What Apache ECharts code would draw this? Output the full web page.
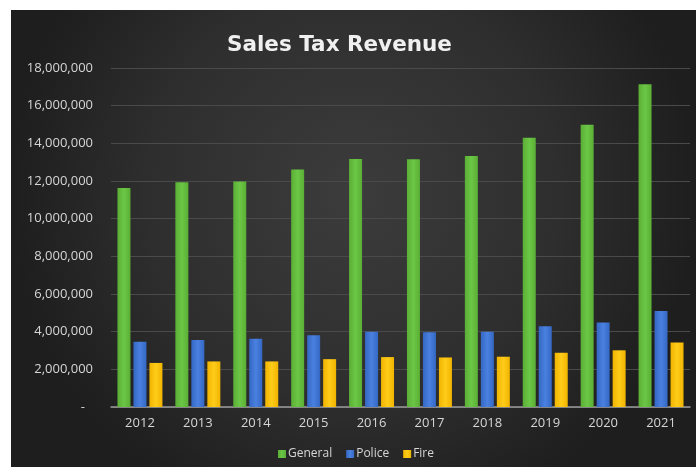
<!DOCTYPE html>
<html>
<head>
<meta charset="utf-8">
<script src="https://cdn.jsdelivr.net/npm/echarts@6/dist/echarts.min.js"></script>
<style>
html,body{margin:0;padding:0;background:#ffffff;}
#chart{position:absolute;left:11px;top:10px;width:685px;height:457px;}
</style>
</head>
<body>
<div id="chart"></div>
<script>
const years = ['2012','2013','2014','2015','2016','2017','2018','2019','2020','2021'];
const general = [11630000,11930000,11970000,12610000,13170000,13150000,13330000,14290000,14990000,17140000];
const police = [3470000,3560000,3630000,3810000,3990000,3970000,3990000,4290000,4490000,5100000];
const fire = [2340000,2420000,2420000,2540000,2650000,2630000,2670000,2880000,3010000,3420000];
const seriesNames = ['General','Police','Fire'];

const chart = echarts.init(document.getElementById('chart'));
const txt = '#d6d6d6';
function mk(name, data, c1, c2){
  return {
    name: name, type: 'bar', data: data, barWidth: 13, barGap: '23%',
    itemStyle: { color: new echarts.graphic.LinearGradient(0,0,1,0,[{offset:0,color:c1},{offset:0.5,color:c2},{offset:1,color:c1}]) }
  };
}
chart.setOption({
  backgroundColor: new echarts.graphic.RadialGradient(0.5,0.4,0.75,[
    {offset:0,color:'#3c3c3c'},{offset:0.6,color:'#2e2e2e'},{offset:1,color:'#1e1e1e'}]),
  animation: false,
  title: {
    text: 'Sales Tax Revenue', left: 211, top: 19,
    textStyle: { color: '#f0f0f0', fontSize: 21.5, fontWeight: 'bold', fontFamily: 'DejaVu Sans' }
  },
  legend: {
    data: seriesNames, left: 262, bottom: 2, itemWidth: 8, itemHeight: 8, itemGap: 14,
    icon: 'rect',
    textStyle: { color: txt, fontSize: 12, fontFamily: 'Open Sans', padding: [0,0,0,-3] }
  },
  grid: { left: 100, right: 6, top: 58, bottom: 60 },
  xAxis: {
    type: 'category', data: years,
    axisLine: { lineStyle: { color: '#9a9a9a', width: 1.5 } },
    axisTick: { show: false },
    axisLabel: { color: txt, fontSize: 13, margin: 10, fontFamily: 'Open Sans' }
  },
  yAxis: {
    type: 'value', min: 0, max: 18000000, interval: 2000000,
    axisLine: { show: false }, axisTick: { show: false },
    splitLine: { lineStyle: { color: '#4a4a4a', width: 1 } },
    axisLabel: {
      color: txt, fontSize: 13, margin: 18, fontFamily: 'Open Sans',
      formatter: function(v){ return v === 0 ? '{d|-}' : v.toLocaleString('en-US'); },
      rich: { d: { color: txt, fontSize: 13, padding: [0,8,0,0] } }
    }
  },
  series: [
    mk('General', general, '#5aae35', '#6cc746'),
    mk('Police', police, '#3468c4', '#4a80e0'),
    mk('Fire', fire, '#f0b400', '#ffcc1a')
  ]
});
</script>
</body>
</html>
